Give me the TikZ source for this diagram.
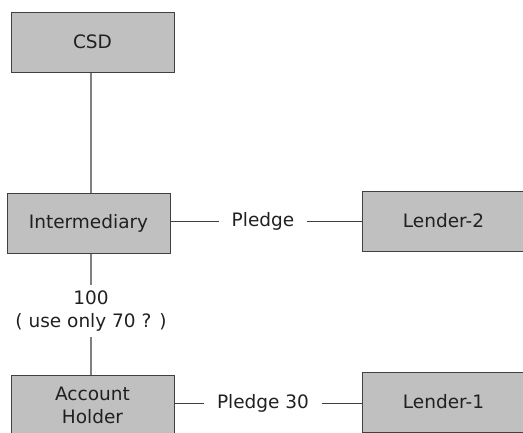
\documentclass[tikz,border=0pt]{standalone}
\usepackage{fontspec}
\setmainfont{DejaVu Sans}
\usepackage{tikz}

\definecolor{boxgray}{HTML}{C0C0C0}
\definecolor{edgegray}{HTML}{404040}
\definecolor{textgray}{HTML}{202020}

\tikzset{
  party/.style={draw=edgegray, fill=boxgray, line width=1pt, minimum width=163pt,
    minimum height=60pt, inner sep=0pt, align=center, text=textgray,
    font=\fontsize{18.5}{23}\selectfont},
  note/.style={inner xsep=13pt, inner ysep=6pt, align=center, text=textgray,
    font=\fontsize{18.5}{23}\selectfont},
  holding/.style={draw=gray, line width=2pt},
  pledgeline/.style={draw=edgegray, line width=1pt}
}

\begin{document}
\begin{tikzpicture}[x=1pt,y=-1pt]
\useasboundingbox (0,0) rectangle (523,432);
\clip (0,0) rectangle (523,432);
\node[party] (CSD) at (92.5,42) {CSD};
\node[party] (Intermediary) at (88.5,223) {Intermediary};
\node[party] (LenderTwo) at (443.5,221) {Lender-2};
\node[party] (AccountHolder) at (92.5,405) {Account\\Holder};
\node[party] (LenderOne) at (443.5,402) {Lender-1};
\node[note] (Pledge) at (263,221) {Pledge};
\node[note] (PledgeThirty) at (263,403) {Pledge 30};
\node[note] (Amount) at (91,311) {100\\( use only 70 ? )};
\draw[holding] (Amount.north |- CSD.south) -- (Amount.north |- Intermediary.north);
\draw[holding] (Amount.north |- Intermediary.south) -- (Amount.north);
\draw[holding] (Amount.south) -- (Amount.south |- AccountHolder.north);
\draw[pledgeline] (Intermediary.east |- Pledge.west) -- (Pledge.west);
\draw[pledgeline] (Pledge.east) -- (LenderTwo.west |- Pledge.east);
\draw[pledgeline] (AccountHolder.east |- PledgeThirty.west) -- (PledgeThirty.west);
\draw[pledgeline] (PledgeThirty.east) -- (LenderOne.west |- PledgeThirty.east);
\end{tikzpicture}
\end{document}
